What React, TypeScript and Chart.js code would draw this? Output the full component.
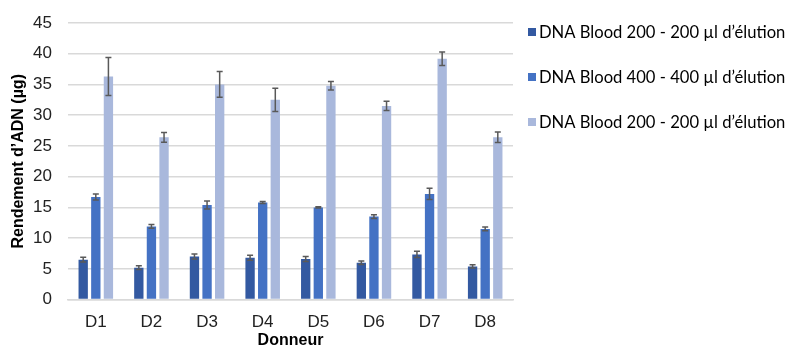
import React, { useEffect, useRef } from "react";
import { Chart, registerables } from "chart.js";

Chart.register(...registerables);

const categories = ["D1", "D2", "D3", "D4", "D5", "D6", "D7", "D8"];
const seriesNames = [
  "DNA Blood 200 - 200 µl d’élution",
  "DNA Blood 400 - 400 µl d’élution",
  "DNA Blood 200 - 200 µl d’élution",
];
const series1 = [6.5, 5.2, 7.0, 6.8, 6.6, 6.0, 7.35, 5.4];
const series1Err = [0.4, 0.3, 0.4, 0.4, 0.4, 0.3, 0.5, 0.25];
const series2 = [16.7, 11.9, 15.4, 15.8, 15.0, 13.5, 17.2, 11.5];
const series2Err = [0.5, 0.3, 0.65, 0.15, 0.1, 0.3, 0.9, 0.3];
const series3 = [36.3, 26.4, 35.0, 32.5, 34.8, 31.5, 39.2, 26.4];
const series3Err = [3.1, 0.8, 2.1, 1.9, 0.7, 0.75, 1.1, 0.85];
const colors = ["#3359A1", "#4472C4", "#A9B8DC"];
const yTicks = [0, 5, 10, 15, 20, 25, 30, 35, 40, 45];
const xTitle = "Donneur";
const yTitle = "Rendement d’ADN (µg)";

const errorBarPlugin = {
  id: "errorBars",
  afterDatasetsDraw(chart: any) {
    const ctx = chart.ctx;
    const yScale = chart.scales.y;
    ctx.save();
    ctx.strokeStyle = "#595959";
    ctx.lineWidth = 1.5;
    chart.data.datasets.forEach((ds: any, di: number) => {
      const meta = chart.getDatasetMeta(di);
      meta.data.forEach((bar: any, i: number) => {
        const v = ds.data[i];
        const e = ds.errors[i];
        const x = bar.x;
        const yTop = yScale.getPixelForValue(v + e);
        const yBot = yScale.getPixelForValue(v - e);
        ctx.beginPath();
        ctx.moveTo(x, yTop);
        ctx.lineTo(x, yBot);
        ctx.moveTo(x - 3, yTop);
        ctx.lineTo(x + 3, yTop);
        ctx.moveTo(x - 3, yBot);
        ctx.lineTo(x + 3, yBot);
        ctx.stroke();
      });
    });
    ctx.restore();
  },
};

const sideLegendPlugin = {
  id: "sideLegend",
  afterDraw(chart: any) {
    const ctx = chart.ctx;
    const area = chart.chartArea;
    const x0 = area.right + 15;
    const y0 = area.top + 9;
    const step = 45;
    ctx.save();
    ctx.font = "16.6px Lato";
    ctx.textBaseline = "middle";
    ctx.textAlign = "left";
    chart.data.datasets.forEach((ds: any, i: number) => {
      const cy = y0 + i * step;
      ctx.fillStyle = ds.backgroundColor;
      ctx.fillRect(x0, cy - 4, 8, 8);
      ctx.fillStyle = "#000";
      ctx.fillText(ds.label, x0 + 11, cy + 1);
    });
    // x-axis title
    ctx.font = "bold 16px 'Liberation Sans'";
    ctx.textAlign = "center";
    ctx.fillText(xTitle, (area.left + area.right) / 2, 341);
    ctx.restore();
  },
};

export default function App() {
  const ref = useRef<HTMLCanvasElement>(null);
  useEffect(() => {
    document.body.style.margin = "0";
    const values = [series1, series2, series3];
    const errs = [series1Err, series2Err, series3Err];
    const chart = new Chart(ref.current!, {
      type: "bar",
      data: {
        labels: categories,
        datasets: values.map((d, i) => ({
          label: seriesNames[i],
          data: d,
          errors: errs[i],
          backgroundColor: colors[i],
          categoryPercentage: 0.68,
          barPercentage: 0.74,
        })) as any,
      },
      options: {
        animation: false,
        responsive: false,
        maintainAspectRatio: false,
        layout: { padding: { top: 23, right: 279, left: 0, bottom: 2 } },
        plugins: {
          legend: { display: false },
          tooltip: { enabled: false },
        },
        scales: {
          x: {
            grid: { display: false, drawTicks: false },
            border: { color: "#D9D9D9", width: 1.5 },
            ticks: {
              color: "#222",
              font: { family: "Liberation Sans", size: 17 },
              padding: 13,
            },
          },
          y: {
            min: 0,
            max: 45,
            afterBuildTicks: (axis: any) => {
              axis.ticks = yTicks.map((v) => ({ value: v }));
            },
            afterFit: (scale: any) => {
              scale.width = 68;
              scale.paddingTop = 0;
              scale.paddingBottom = 0;
            },
            grid: { color: "#D9D9D9", lineWidth: 1.5, drawTicks: false },
            border: { display: false },
            ticks: {
              color: "#222",
              font: { family: "Liberation Sans", size: 17 },
              padding: 16,
            },
            title: {
              display: true,
              text: yTitle,
              color: "#000",
              font: { family: "Liberation Sans", size: 16, weight: "bold" },
              padding: { top: 9, bottom: 0 },
            },
          },
        },
      } as any,
      plugins: [errorBarPlugin, sideLegendPlugin],
    });
    return () => chart.destroy();
  }, []);
  return (
    <div style={{ position: "absolute", left: 0, top: 0, width: 792, height: 348 }}>
      <canvas ref={ref} width={792} height={348} />
    </div>
  );
}
